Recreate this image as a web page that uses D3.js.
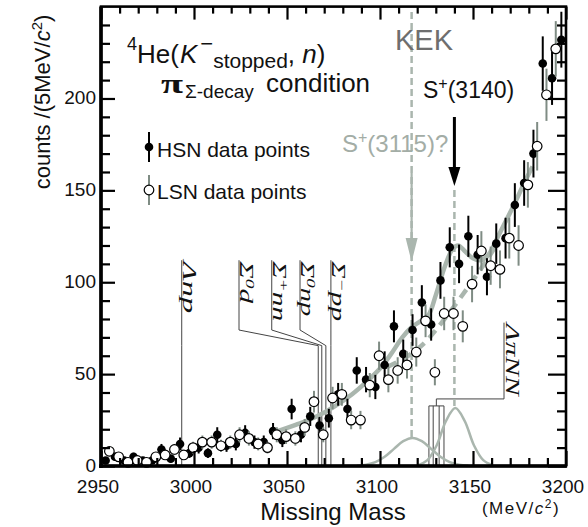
<!DOCTYPE html>
<html>
<head>
<meta charset="utf-8">
<script src="https://cdn.jsdelivr.net/npm/d3@7"></script>
<style>
  body { margin: 0; background: #fff; }
  svg text { font-family: "Liberation Sans", Arial, sans-serif; fill: #111; }
</style>
</head>
<body>
<svg id="chart" width="588" height="527"></svg>
<script>
// HSN data points (filled), 5 MeV bins
const massHSN = [2952.5, 2957.5, 2962.5, 2967.5, 2972.5, 2977.5, 2982.5, 2987.5, 2992.5, 2997.5,
  3002.5, 3007.5, 3012.5, 3017.5, 3022.5, 3027.5, 3032.5, 3037.5, 3042.5, 3047.5,
  3052.5, 3057.5, 3062.5, 3067.5, 3072.5, 3077.5, 3082.5, 3087.5, 3092.5, 3097.5,
  3102.5, 3107.5, 3112.5, 3117.5, 3122.5, 3127.5, 3132.5, 3137.5, 3142.5, 3147.5,
  3152.5, 3157.5, 3162.5, 3167.5, 3172.5, 3177.5, 3182.5, 3187.5, 3192.5, 3197.5];
const countsHSN = [3, 5, 3, 5, 3, 3, 9, 4, 12, 7,
  10, 7, 17, 11, 12, 18, 13, 13, 19, 14,
  31, 17, 27, 22, 26, 39, 31, 52, 47, 43,
  55, 76, 61, 74, 89, 77, 101, 119, 110, 125,
  115, 103, 121, 124, 142, 154, 170, 219, 211, 232];
const errHSN = [1.8, 2.2, 1.8, 2.2, 1.8, 1.8, 3, 2, 3.5, 2.6,
  3.2, 2.6, 4.1, 3.3, 3.5, 4.2, 3.6, 3.6, 4.4, 3.7,
  5.6, 4.1, 5.2, 4.7, 5.1, 6.2, 5.6, 7.2, 6.9, 6.6,
  7.4, 8.7, 7.8, 8.6, 9.4, 8.8, 10, 10.9, 10.5, 11.2,
  10.7, 10.1, 11, 11.1, 11.9, 12.4, 13, 14.8, 14.5, 15.2];

// LSN data points (open)
const massLSN = [2954.5, 2959.5, 2964.5, 2969.5, 2974.5, 2979.5, 2984.5, 2989.5, 2994.5, 2999.5,
  3004.5, 3009.5, 3014.5, 3019.5, 3024.5, 3029.5, 3034.5, 3039.5, 3044.5, 3049.5,
  3054.5, 3059.5, 3064.5, 3069.5, 3074.5, 3079.5, 3084.5, 3089.5, 3094.5, 3099.5,
  3104.5, 3109.5, 3114.5, 3119.5, 3124.5, 3129.5, 3134.5, 3139.5, 3144.5, 3149.5,
  3154.5, 3159.5, 3164.5, 3169.5, 3174.5, 3179.5, 3184.5, 3189.5, 3194.5];
const countsLSN = [8, 5, 2, 3, 2, 5, 6, 9, 6, 10,
  13, 13, 11, 13, 17, 15, 12, 10, 17, 16,
  15, 21, 35, 17, 37, 39, 25, 25, 44, 60,
  47, 52, 55, 62, 79, 51, 83, 83, 76, 99,
  117, 109, 107, 124, 120, 153, 174, 202, 227];
const errLSN = [2.8, 2.2, 1.4, 1.7, 1.4, 2.2, 2.4, 3, 2.4, 3.2,
  3.6, 3.6, 3.3, 3.6, 4.1, 3.9, 3.5, 3.2, 4.1, 4,
  3.9, 4.6, 5.9, 4.1, 6.1, 6.2, 5, 5, 6.6, 7.7,
  6.9, 7.2, 7.4, 7.9, 8.9, 7.1, 9.1, 9.1, 8.7, 9.9,
  10.8, 10.4, 10.3, 11.1, 11, 12.4, 13.2, 14.2, 15.1];

// fit curves
const fitMass = [3045, 3055, 3065, 3075, 3085, 3093, 3100, 3106, 3112, 3117, 3122, 3126,
  3130, 3135, 3139, 3142, 3146, 3150, 3154, 3158, 3164, 3171, 3178, 3182];
const fitCounts = [19, 22.5, 26.5, 32, 39, 46, 53, 61, 70, 75.5, 79, 82,
  93, 109, 118, 120, 116.5, 113, 112, 114.5, 126, 140, 155, 163];
const bgMass = [3104, 3112, 3118, 3124, 3130, 3137, 3145, 3152, 3158, 3163];
const bgCounts = [54, 58, 62, 67, 74, 83, 94, 104, 113, 121];
const peak1Mass = [3087.5, 3092.5, 3097.5, 3102.5, 3107.5, 3112.5, 3117.5, 3122.5, 3127.5, 3132.5, 3137.5, 3142.5, 3147.5];
const peak1Counts = [0.2, 0.7, 2.1, 5, 9.3, 13.5, 15.3, 13.5, 9.3, 5, 2.1, 0.7, 0.2];
const peak2Mass = [3120.5, 3125.5, 3130.5, 3135.5, 3140.5, 3145.5, 3150.5, 3155.5, 3160.5];
const peak2Counts = [0.5, 3.2, 11.3, 24.6, 31.5, 24.6, 11.3, 3.2, 0.5];

// thresholds
const thrNames = [["Λnp"], ["Σ", "0", "d"], ["Σ", "+", "nn"], ["Σ", "0", "np"], ["Σ", "−", "pp"]];
const thrMass = [2993.4, 3066.8, 3068.7, 3070.9, 3073.6];
const lpnnMass = [3126.3, 3128.6, 3131.8, 3134.4];

const xTicks = [2950, 3000, 3050, 3100, 3150, 3200];
const yTicks = [0, 50, 100, 150, 200];

const svg = d3.select("#chart");
const x = d3.scaleLinear().domain([2950, 3200]).range([101, 566]);
const y = d3.scaleLinear().domain([0, 250]).range([466, 6.6]);

const gray = "#aab6ae", errGray = "#7f8c84";

// threshold lines and labels
const labelMass = [2993.4, 3024.2, 3041.8, 3057.0, 3073.6];
const labelLen = [52, 42, 60, 55, 60];
const topY = y(112), kneeA = y(74), kneeB = y(65.5);
thrMass.forEach((m, i) => {
  const lx = x(labelMass[i]);
  svg.append("path")
    .attr("d", `M${lx},${topY}V${kneeA}L${x(m)},${kneeB}V${y(0)}`)
    .attr("fill", "none").attr("stroke", "#444").attr("stroke-width", 1);
  const t = svg.append("text")
    .attr("transform", `translate(${lx + 1},${topY + 1}) rotate(90)`)
    .style("font-family", "'Liberation Serif', serif").style("font-style", "italic")
    .style("font-size", "18px")
    .attr("textLength", labelLen[i]).attr("lengthAdjust", "spacingAndGlyphs");
  const parts = thrNames[i];
  if (parts.length === 1) t.text(parts[0]);
  else {
    t.append("tspan").text(parts[0]);
    t.append("tspan").attr("dy", -6).style("font-size", "12px").text(parts[1]);
    t.append("tspan").attr("dy", 6).text(parts[2]);
  }
});

// ΛπNN box
svg.append("path")
  .attr("d", `M${x(lpnnMass[0])},${y(0)}V${y(32.7)}H${x(lpnnMass[3])}V${y(0)}`)
  .attr("fill", "none").attr("stroke", "#444").attr("stroke-width", 1);
lpnnMass.slice(1, 3).forEach(m => {
  svg.append("line").attr("x1", x(m)).attr("x2", x(m)).attr("y1", y(32.7)).attr("y2", y(0))
    .attr("stroke", "#444").attr("stroke-width", 1);
});
svg.append("path")
  .attr("d", `M${x(3130.3)},${y(32.7)}V${y(36.5)}H504V${y(78)}`)
  .attr("fill", "none").attr("stroke", "#444").attr("stroke-width", 1);
svg.append("text")
  .attr("transform", `translate(506,${y(77.5)}) rotate(90)`)
  .style("font-family", "'Liberation Serif', serif").style("font-style", "italic")
  .style("font-size", "18px")
  .attr("textLength", 72).attr("lengthAdjust", "spacingAndGlyphs")
  .text("ΛπNN");

// dashed markers for the two states
svg.append("line").attr("x1", x(3117)).attr("x2", x(3117)).attr("y1", 12).attr("y2", y(15.3))
  .attr("stroke", gray).attr("stroke-width", 2.5).attr("stroke-dasharray", "7,4");
svg.append("line").attr("x1", x(3140)).attr("x2", x(3140)).attr("y1", 190).attr("y2", y(31.5))
  .attr("stroke", gray).attr("stroke-width", 2.5).attr("stroke-dasharray", "7,4");

// fit curves
const line = d3.line().x(d => x(d[0])).y(d => y(d[1])).curve(d3.curveCatmullRom);
svg.append("path").datum(d3.zip(peak1Mass, peak1Counts)).attr("d", line)
  .attr("fill", "none").attr("stroke", gray).attr("stroke-width", 2.5);
svg.append("path").datum(d3.zip(peak2Mass, peak2Counts)).attr("d", line)
  .attr("fill", "none").attr("stroke", gray).attr("stroke-width", 2.5);
svg.append("path").datum(d3.zip(bgMass, bgCounts)).attr("d", line)
  .attr("fill", "none").attr("stroke", gray).attr("stroke-width", 4.5).attr("stroke-dasharray", "10,7");
svg.append("path").datum(d3.zip(fitMass, fitCounts)).attr("d", line)
  .attr("fill", "none").attr("stroke", gray).attr("stroke-width", 4.5);

// data points
const hsn = d3.zip(massHSN, countsHSN, errHSN);
const lsn = d3.zip(massLSN, countsLSN, errLSN);
svg.append("g").selectAll("line").data(hsn).join("line")
  .attr("x1", d => x(d[0])).attr("x2", d => x(d[0]))
  .attr("y1", d => y(d[1] - d[2])).attr("y2", d => y(d[1] + d[2]))
  .attr("stroke", "#000").attr("stroke-width", 2);
svg.append("g").selectAll("circle").data(hsn).join("circle")
  .attr("cx", d => x(d[0])).attr("cy", d => y(d[1])).attr("r", 4.3).attr("fill", "#000");
svg.append("g").selectAll("line").data(lsn).join("line")
  .attr("x1", d => x(d[0])).attr("x2", d => x(d[0]))
  .attr("y1", d => y(d[1] - d[2])).attr("y2", d => y(d[1] + d[2]))
  .attr("stroke", errGray).attr("stroke-width", 2);
svg.append("g").selectAll("circle").data(lsn).join("circle")
  .attr("cx", d => x(d[0])).attr("cy", d => y(d[1])).attr("r", 4.8)
  .attr("fill", "#fff").attr("stroke", "#000").attr("stroke-width", 1.2);

// axes (ticks inward)
const xMinor = d3.range(2950, 3201, 10).filter(v => v % 50);
const yMinor = d3.range(0, 251, 10).filter(v => v % 50);
function ticks(axis, tr) {
  const g = svg.append("g").attr("transform", tr).call(axis);
  g.select(".domain").remove();
  g.selectAll("text").remove();
  g.selectAll("line").attr("stroke", "#000").attr("stroke-width", 2.2);
}
ticks(d3.axisBottom(x).tickValues(xTicks).tickSize(-15), `translate(0,${y(0)})`);
ticks(d3.axisBottom(x).tickValues(xMinor).tickSize(-8), `translate(0,${y(0)})`);
ticks(d3.axisTop(x).tickValues(xTicks).tickSize(-13), `translate(0,${y(250)})`);
ticks(d3.axisTop(x).tickValues(xMinor).tickSize(-7), `translate(0,${y(250)})`);
ticks(d3.axisLeft(y).tickValues(yTicks).tickSize(-14), `translate(${x(2950)},0)`);
ticks(d3.axisLeft(y).tickValues(yMinor).tickSize(-9), `translate(${x(2950)},0)`);
ticks(d3.axisRight(y).tickValues(yTicks).tickSize(-18), `translate(${x(3200)},0)`);
ticks(d3.axisRight(y).tickValues(yMinor).tickSize(-9), `translate(${x(3200)},0)`);

svg.append("rect").attr("x", x(2950)).attr("y", y(250))
  .attr("width", x(3200) - x(2950)).attr("height", y(0) - y(250))
  .attr("fill", "none").attr("stroke", "#000").attr("stroke-width", 2.6);
svg.append("line").attr("x1", x(2950)).attr("x2", x(2950)).attr("y1", y(250)).attr("y2", y(0) + 2)
  .attr("stroke", "#000").attr("stroke-width", 3.6);
svg.append("line").attr("x1", x(2950) - 2).attr("x2", x(3200) + 1).attr("y1", y(0)).attr("y2", y(0))
  .attr("stroke", "#000").attr("stroke-width", 3.6);

// tick labels
svg.append("g").selectAll("text").data(yTicks).join("text")
  .attr("x", 96).attr("y", d => y(d)).attr("dy", "0.3em")
  .attr("text-anchor", "end").style("font-size", "19px").text(d => d);
svg.append("g").selectAll("text").data(xTicks).join("text")
  .attr("x", d => x(d) - 3).attr("y", 493)
  .attr("text-anchor", "middle").style("font-size", "19px").text(d => d);

// axis titles
svg.append("text").attr("x", 333).attr("y", 520).attr("text-anchor", "middle")
  .style("font-size", "24px").text("Missing Mass");
const unit = svg.append("text").attr("x", 521).attr("y", 514).attr("text-anchor", "middle")
  .style("font-size", "17px").style("letter-spacing", "1.5px");
unit.append("tspan").text("(MeV/");
unit.append("tspan").style("font-style", "italic").text("c");
unit.append("tspan").attr("dy", -6).style("font-size", "12px").text("2");
unit.append("tspan").attr("dy", 6).text(")");

const ylab = svg.append("text").attr("transform", "translate(50,102) rotate(-90)")
  .attr("text-anchor", "middle").style("font-size", "22px");
ylab.append("tspan").text("counts /(5MeV/");
ylab.append("tspan").style("font-style", "italic").text("c");
ylab.append("tspan").attr("dy", -8).style("font-size", "15px").text("2");
ylab.append("tspan").attr("dy", 8).text(")");

// reaction title
const t1 = svg.append("text").attr("x", 127).attr("y", 63).style("font-size", "26px");
t1.append("tspan").attr("dy", -13).style("font-size", "18px").text("4");
t1.append("tspan").attr("dy", 13).text("He(");
t1.append("tspan").attr("dx", 1).style("font-style", "italic").text("K");
t1.append("tspan").attr("dy", -12).attr("dx", 3).style("font-size", "22px").text("−");
t1.append("tspan").attr("dy", 17).style("font-size", "21px").text("stopped");
t1.append("tspan").attr("dy", -5).text(", ");
t1.append("tspan").style("font-style", "italic").text("n");
t1.append("tspan").text(")");

svg.append("text").attr("x", 161).attr("y", 93)
  .style("font-family", "'Liberation Serif', serif").style("font-weight", "bold")
  .style("font-size", "27px").attr("textLength", 22).attr("lengthAdjust", "spacingAndGlyphs")
  .text("π");
svg.append("text").attr("x", 185).attr("y", 98).style("font-size", "19px").text("Σ-decay");
svg.append("text").attr("x", 266).attr("y", 92).style("font-size", "26px").text("condition");

// legend
svg.append("line").attr("x1", 149).attr("x2", 149).attr("y1", 132).attr("y2", 162)
  .attr("stroke", "#000").attr("stroke-width", 2);
svg.append("circle").attr("cx", 149).attr("cy", 147).attr("r", 4.3).attr("fill", "#000");
svg.append("text").attr("x", 157).attr("y", 157).style("font-size", "21px").text("HSN data points");
svg.append("line").attr("x1", 149).attr("x2", 149).attr("y1", 175).attr("y2", 205)
  .attr("stroke", errGray).attr("stroke-width", 2);
svg.append("circle").attr("cx", 149).attr("cy", 190).attr("r", 4.8)
  .attr("fill", "#fff").attr("stroke", "#000").attr("stroke-width", 1.2);
svg.append("text").attr("x", 157).attr("y", 199).style("font-size", "21px").text("LSN data points");

// state annotations
svg.append("text").attr("x", 424).attr("y", 50).attr("text-anchor", "middle")
  .style("font-size", "29px").style("fill", "#6e6e6e").text("KEK");
const s1 = svg.append("text").attr("x", 423).attr("y", 98).style("font-size", "23px");
s1.append("tspan").text("S");
s1.append("tspan").attr("dy", -9).style("font-size", "16px").text("+");
s1.append("tspan").attr("dy", 9).text("(3140)");
const s2 = svg.append("text").attr("x", 342).attr("y", 152).style("font-size", "24px")
  .style("fill", "#a3ada6");
s2.append("tspan").text("S");
s2.append("tspan").attr("dy", -9).style("font-size", "16px").text("+");
s2.append("tspan").attr("dy", 9).text("(3115)?");

// arrows
svg.append("line").attr("x1", x(3140)).attr("x2", x(3140)).attr("y1", 117).attr("y2", 170)
  .attr("stroke", "#000").attr("stroke-width", 3);
svg.append("path").attr("d", `M${x(3140) - 6},167L${x(3140) + 6},167L${x(3140)},186Z`).attr("fill", "#000");
svg.append("line").attr("x1", x(3117)).attr("x2", x(3117)).attr("y1", 173).attr("y2", 242)
  .attr("stroke", gray).attr("stroke-width", 2.2);
svg.append("path").attr("d", `M${x(3117) - 6},238L${x(3117) + 6},238L${x(3117)},262Z`).attr("fill", gray);
</script>
</body>
</html>
